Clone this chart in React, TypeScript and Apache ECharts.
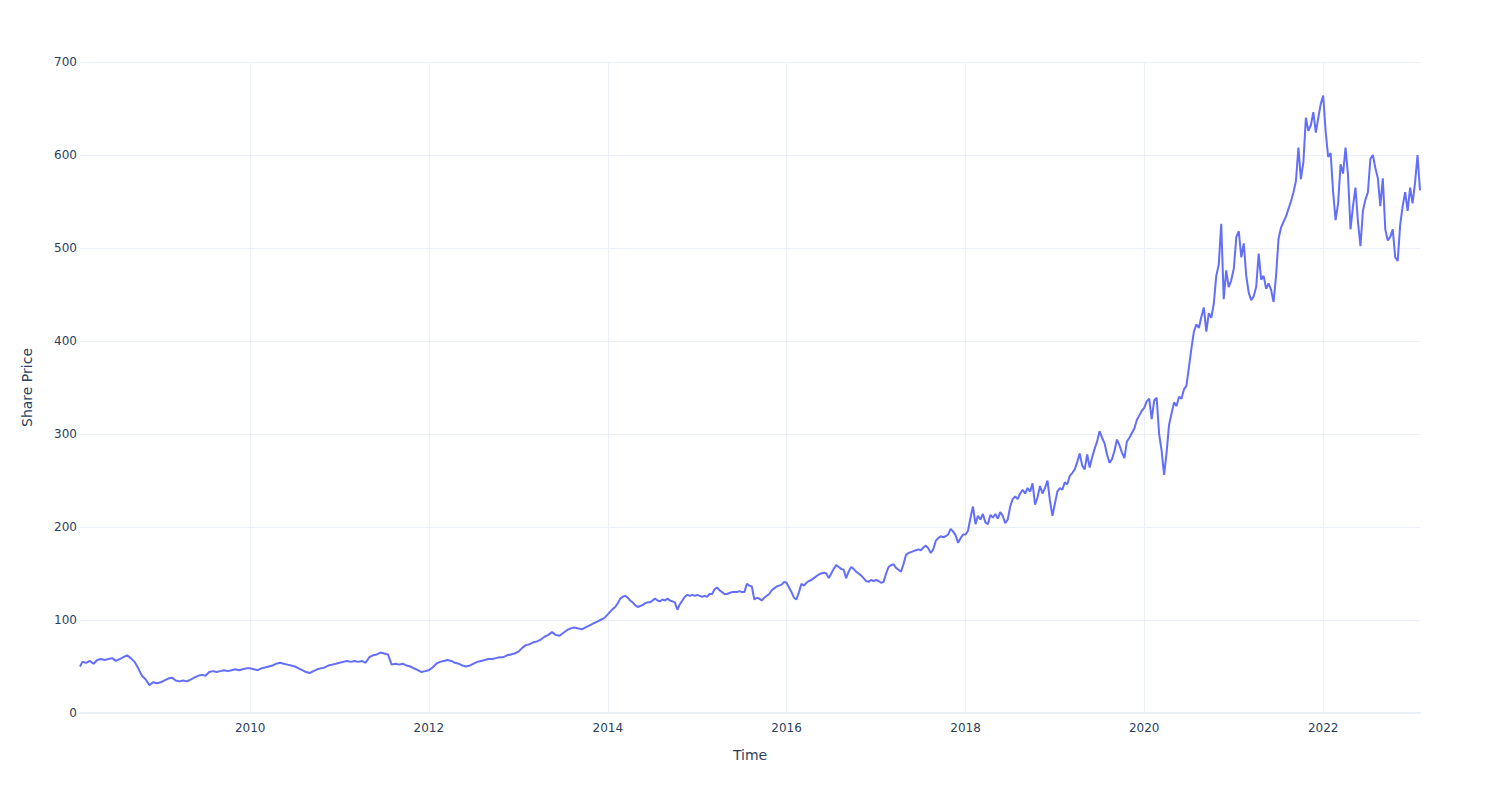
import React, { useEffect, useRef } from "react";
import * as echarts from "echarts";

// Share price readings: semi-monthly (24 per year) for 2008-2013, ~10-day steps (36 per year) from 2014
const p2008 = [50, 55, 54, 56, 53, 57, 58, 57, 58, 59, 56, 58, 60, 62, 59, 55, 48, 40, 36, 30, 33, 32];
const p2009 = [33, 35, 37, 38, 35, 34, 35, 34, 36, 38, 40, 41, 40, 44, 45, 44, 45, 46, 45, 46, 47, 46, 47, 48];
const p2010 = [48, 47, 46, 48, 49, 50, 51, 53, 54, 53, 52, 51, 50, 48, 46, 44, 43, 45, 47, 48, 49, 51, 52, 53];
const p2011 = [54, 55, 56, 55, 56, 55, 56, 54, 60, 62, 63, 65, 64, 63, 52, 53, 52, 53, 51, 50, 48, 46, 44, 45];
const p2012 = [46, 49, 53, 55, 56, 57, 56, 54, 53, 51, 50, 51, 53, 55, 56, 57, 58, 58, 59, 60, 60, 62, 63, 64];
const p2013 = [66, 70, 73, 74, 76, 77, 79, 82, 84, 87, 84, 83, 86, 89, 91, 92, 91, 90, 92, 94, 96, 98, 100, 102];
const p2014 = [106, 109, 112, 114, 118, 123, 125, 126, 124, 121, 119, 116, 114, 115, 116, 118, 119, 119, 121, 123, 121, 120, 122, 121, 123, 121, 120, 119, 111, 117, 121, 125, 127, 126, 127, 126];
const p2015 = [127, 126, 125, 126, 125, 128, 128, 133, 135, 132, 130, 128, 128, 129, 130, 130, 130, 131, 130, 130, 139, 137, 136, 122, 124, 123, 121, 124, 126, 128, 132, 134, 136, 137, 138, 141];
const p2016 = [140, 135, 130, 124, 122, 130, 139, 137, 140, 142, 143, 145, 147, 149, 150, 151, 150, 145, 150, 155, 159, 157, 155, 154, 145, 152, 157, 155, 152, 150, 148, 145, 142, 141, 143, 142];
const p2017 = [143, 142, 140, 141, 150, 157, 159, 160, 156, 154, 152, 160, 170, 172, 173, 174, 175, 176, 175, 178, 180, 177, 172, 176, 185, 188, 190, 189, 190, 192, 198, 195, 191, 183, 188, 192];
const p2018 = [192, 196, 210, 222, 203, 212, 208, 214, 205, 203, 213, 210, 214, 209, 216, 212, 204, 208, 222, 230, 233, 230, 236, 240, 236, 242, 238, 247, 224, 232, 244, 236, 242, 250, 228, 212];
const p2019 = [225, 238, 242, 240, 248, 246, 255, 258, 262, 270, 279, 266, 262, 278, 264, 275, 284, 292, 303, 296, 290, 278, 269, 273, 282, 294, 288, 280, 274, 292, 296, 301, 306, 315, 320, 325];
const p2020 = [328, 335, 338, 316, 336, 339, 300, 282, 256, 280, 310, 322, 334, 330, 340, 338, 348, 352, 372, 392, 410, 418, 414, 426, 436, 410, 430, 425, 440, 470, 482, 526, 445, 476, 458, 465];
const p2021 = [478, 512, 518, 490, 505, 470, 452, 444, 448, 458, 494, 466, 470, 456, 462, 455, 442, 470, 510, 522, 528, 534, 542, 550, 560, 572, 608, 574, 592, 640, 626, 632, 646, 624, 640, 655];
const p2022 = [664, 625, 598, 602, 560, 530, 548, 590, 580, 608, 578, 520, 545, 565, 528, 502, 540, 552, 560, 596, 600, 586, 575, 545, 575, 520, 508, 512, 520, 490, 486, 525, 545, 560, 540, 565];
const p2023 = [548, 570, 600, 562];

const xTickYears = [2010, 2012, 2014, 2016, 2018, 2020, 2022];
const yTicks = [0, 100, 200, 300, 400, 500, 600, 700];

const DAY = 86400000;

function buildSeries(): [number, number][] {
  const segs: { year: number; perYear: number; start: number; values: number[] }[] = [
    { year: 2008, perYear: 24, start: 2, values: p2008 },
    { year: 2009, perYear: 24, start: 0, values: p2009 },
    { year: 2010, perYear: 24, start: 0, values: p2010 },
    { year: 2011, perYear: 24, start: 0, values: p2011 },
    { year: 2012, perYear: 24, start: 0, values: p2012 },
    { year: 2013, perYear: 24, start: 0, values: p2013 },
    { year: 2014, perYear: 36, start: 0, values: p2014 },
    { year: 2015, perYear: 36, start: 0, values: p2015 },
    { year: 2016, perYear: 36, start: 0, values: p2016 },
    { year: 2017, perYear: 36, start: 0, values: p2017 },
    { year: 2018, perYear: 36, start: 0, values: p2018 },
    { year: 2019, perYear: 36, start: 0, values: p2019 },
    { year: 2020, perYear: 36, start: 0, values: p2020 },
    { year: 2021, perYear: 36, start: 0, values: p2021 },
    { year: 2022, perYear: 36, start: 0, values: p2022 },
    { year: 2023, perYear: 36, start: 0, values: p2023 },
  ];
  const out: [number, number][] = [];
  segs.forEach((s) => {
    const y0 = Date.UTC(s.year, 0, 1);
    s.values.forEach((v, i) => {
      const t = y0 + (s.start + i) * (365.25 / s.perYear) * DAY;
      out.push([t, v]);
    });
  });
  out[0][0] = Date.UTC(2008, 1, 6);
  return out;
}

export default function App() {
  const ref = useRef<HTMLDivElement>(null);
  useEffect(() => {
    if (!ref.current) return;
    const chart = echarts.init(ref.current, null, { renderer: "svg" });
    const data = buildSeries();
    const font = '"DejaVu Sans", verdana, sans-serif';
    const textColor = "#2a3f5f";
    const gridColor = "#ebf0f8";
    const tickVals = xTickYears.map((y) => Date.UTC(y, 0, 1));
    chart.setOption({
      animation: false,
      backgroundColor: "#ffffff",
      textStyle: { fontFamily: font },
      grid: { left: 80, right: 80, top: 62, bottom: 87, containLabel: false },
      xAxis: {
        type: "value",
        min: data[0][0],
        max: data[data.length - 1][0],
        name: "Time",
        nameLocation: "middle",
        nameGap: 35,
        nameTextStyle: { color: textColor, fontSize: 14, fontFamily: font },
        axisLine: { show: true, onZero: false, lineStyle: { color: gridColor, width: 2 } },
        axisTick: { show: false, customValues: tickVals },
        axisLabel: {
          customValues: tickVals,
          color: textColor,
          fontSize: 12,
          fontFamily: font,
          margin: 9,
          formatter: (v: number) => String(new Date(v).getUTCFullYear()),
        },
        splitLine: { show: true, lineStyle: { color: gridColor, width: 1 } },
      },
      yAxis: {
        type: "value",
        min: yTicks[0],
        max: yTicks[yTicks.length - 1],
        interval: 100,
        name: "Share Price",
        nameLocation: "middle",
        nameGap: 46,
        nameTextStyle: { color: textColor, fontSize: 14, fontFamily: font },
        axisLine: { show: false },
        axisTick: { show: false },
        axisLabel: { color: textColor, fontSize: 12, fontFamily: font, margin: 3 },
        splitLine: { show: true, lineStyle: { color: gridColor, width: 1 } },
      },
      series: [
        {
          type: "line",
          data,
          showSymbol: false,
          symbol: "none",
          lineStyle: { color: "#636efa", width: 2 },
          itemStyle: { color: "#636efa" },
        },
      ],
    });
    return () => chart.dispose();
  }, []);
  return (
    <div
      ref={ref}
      style={{ position: "absolute", left: 0, top: 0, width: 1500, height: 800 }}
    />
  );
}
